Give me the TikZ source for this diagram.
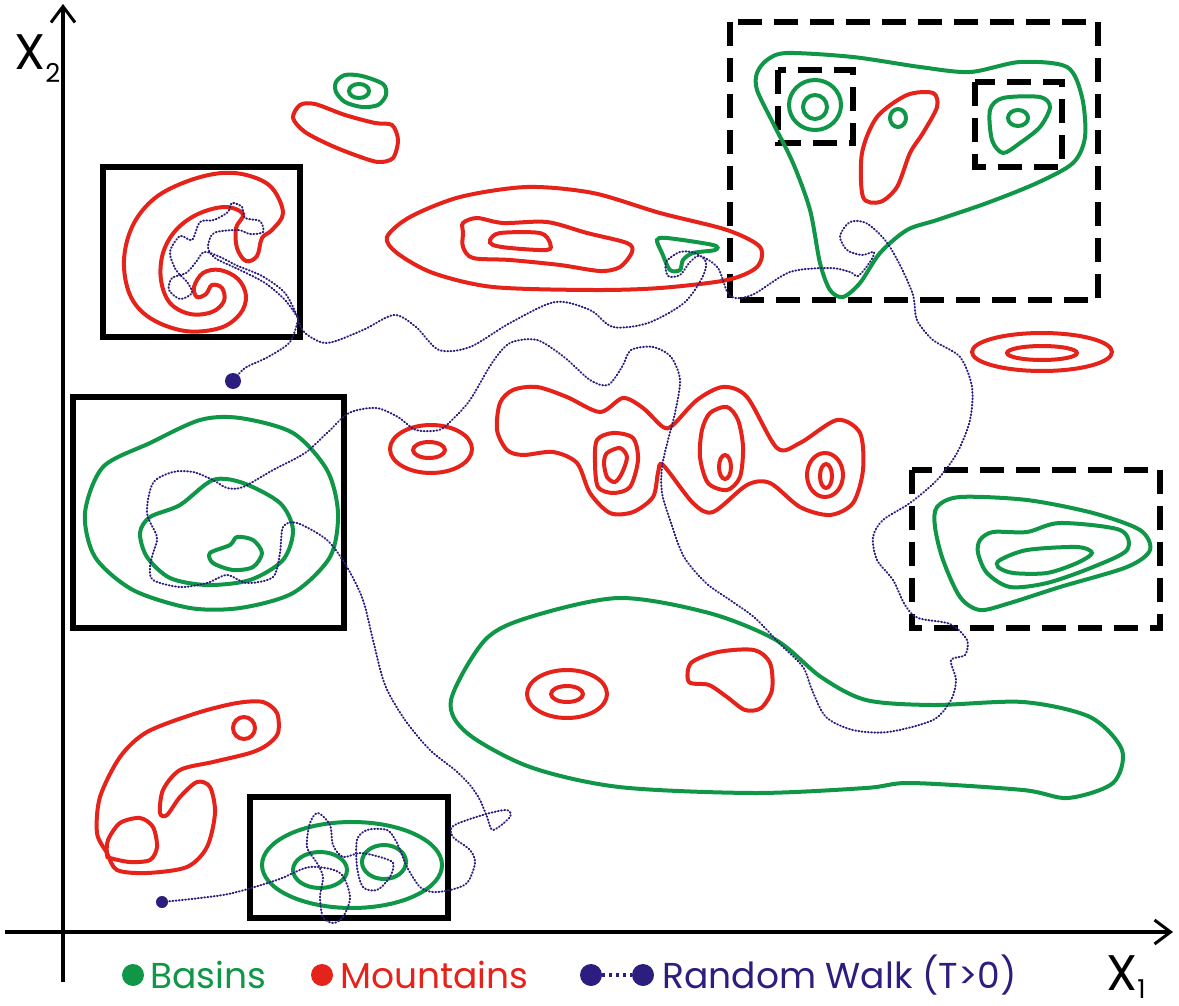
\documentclass[tikz,border=0pt]{standalone}
\usepackage{fontspec}
\setmainfont{Poppins}
\usetikzlibrary{arrows.meta,positioning}
\definecolor{basin}{HTML}{0F9647}
\definecolor{mountain}{HTML}{E5231B}
\definecolor{walker}{HTML}{2B1E7E}
\tikzset{
  mnt/.style={mountain, line width=2pt},
  bsn/.style={basin, line width=2pt},
  walk/.style={walker, line width=1pt, dash pattern=on 0.4pt off 1.2pt, line cap=round},
  frame/.style={black, line width=3pt},
  dframe/.style={black, line width=3pt, dash pattern=on 12pt off 6pt},
  axis/.style={black, line width=2pt, -{Straight Barb[length=8pt,width=12pt,line width=1.5pt]}},
  big/.style={inner sep=0pt, anchor=base west, font=\fontsize{25}{30}\selectfont},
  legtext/.style={inner sep=0pt, anchor=base west, font=\fontsize{18}{21}\selectfont},
  legdot/.style={circle, inner sep=0pt, minimum size=11pt},
}
\begin{document}
\begin{tikzpicture}[x=0.5pt,y=-0.5pt]
\useasboundingbox (0,0) rectangle (1179,1006);

% axes
\coordinate (o1) at (5,932);
\coordinate (e1) at (1173,932);
\coordinate (o2) at (63,982);
\coordinate (e2) at (63,4);
\draw[axis] (o1) -- (e1);
\draw[axis] (o2) -- (e2);
\node[big] (xtwo) at (14,70) {X\raisebox{-6pt}{\fontsize{13}{13}\selectfont 2}};
\node[big] (xone) at (1106,990) {X\raisebox{-4pt}{\fontsize{13}{13}\selectfont 1}};

% frames
\draw[frame] (103,167) rectangle (300,337);
\draw[frame] (73,397) rectangle (344,628);
\draw[frame] (250,797) rectangle (448,918);
\draw[dframe] (730,22) rectangle (1098,300);
\draw[dframe] (778,70) rectangle (853,143);
\draw[dframe] (975,82) rectangle (1062,167);
\draw[dframe] (912,470) rectangle (1160,628);

% spiral mountain
\draw[mnt] plot[smooth cycle, tension=0.6] coordinates {(283,213) (272,188) (250,176) (222,173) (188,181) (155,198) (133,225) (124,260) (130,295) (150,318) (185,331) (220,328) (240,314) (246,296) (238,279) (220,270) (203,273) (194,287) (197,297) (206,294) (212,285) (222,288) (224,301) (212,312) (190,314) (170,303) (161,280) (163,253) (176,230) (198,214) (225,207) (243,214) (236,228) (237,248) (246,261) (257,256) (262,238) (272,230)};

% small pair at the top
\draw[bsn] plot[smooth cycle] coordinates {(336,82) (345,75) (362,76) (383,84) (386,95) (378,105) (362,107) (345,102) (336,92)};
\draw[bsn] (359,91) ellipse [x radius=10, y radius=7];
\draw[mnt] plot[smooth cycle] coordinates {(300,105) (315,104) (345,115) (375,123) (392,125) (398,140) (393,158) (378,162) (355,155) (330,145) (305,132) (293,118)};

% long ridge
\draw[mnt] plot[smooth cycle] coordinates {(387,237) (410,217) (460,197) (527,187) (593,193) (660,213) (727,230) (760,247) (757,267) (727,280) (660,288) (593,290) (493,287) (433,273) (397,253)};
\draw[mnt] plot[smooth cycle] coordinates {(463,223) (477,218) (503,223) (547,222) (587,233) (627,243) (632,252) (620,267) (600,271) (560,265) (510,260) (473,258) (463,247) (463,233)};
\draw[mnt] plot[smooth cycle] coordinates {(490,240) (500,233) (540,233) (550,243) (547,250) (510,248) (493,245)};
\draw[bsn] plot[smooth cycle] coordinates {(657,240) (667,238) (713,245) (715,250) (693,253) (683,260) (680,270) (670,270) (662,253)};

% upper right basin
\draw[bsn] plot[smooth cycle] coordinates {(757,73) (767,60) (787,53) (853,57) (920,67) (970,72) (1020,62) (1067,67) (1082,97) (1085,137) (1073,163) (1037,183) (987,203) (937,220) (907,230) (880,253) (860,283) (843,297) (830,290) (820,263) (810,210) (793,163) (773,123) (757,90)};
\draw[bsn] (815,105) ellipse [x radius=26, y radius=25];
\draw[bsn] (815,107) circle [radius=12];
\draw[mnt] plot[smooth cycle] coordinates {(863,197) (862,153) (877,117) (907,95) (933,93) (937,107) (923,133) (910,153) (897,187) (880,202)};
\draw[bsn] (898,118) ellipse [x radius=8, y radius=9];
\draw[bsn] plot[smooth cycle] coordinates {(990,110) (1003,98) (1040,97) (1050,107) (1040,127) (1020,143) (1003,153) (992,140)};
\draw[bsn] (1018,118) ellipse [x radius=10, y radius=8];

% flat mountain on the right
\draw[mnt] (1042,352) ellipse [x radius=70, y radius=19];
\draw[mnt] (1042,353) ellipse [x radius=35, y radius=7];

% right basin
\draw[bsn] plot[smooth cycle] coordinates {(937,507) (960,497) (1027,500) (1093,513) (1140,530) (1150,550) (1127,567) (1060,587) (1010,603) (980,610) (960,597) (943,560) (935,527)};
\draw[bsn] plot[smooth cycle] coordinates {(980,540) (993,532) (1027,532) (1060,523) (1120,530) (1127,550) (1093,567) (1047,583) (1010,587) (987,573) (978,553)};
\draw[bsn] plot[smooth cycle] coordinates {(1000,560) (1027,550) (1077,547) (1092,553) (1077,563) (1047,573) (1013,573) (998,567)};

% mountain chain
\draw[mnt] (431,449) ellipse [x radius=41, y radius=24];
\draw[mnt] (429,450) ellipse [x radius=16, y radius=8];
\draw[mnt] plot[smooth cycle] coordinates {(500,403) (513,390) (537,387) (567,397) (600,412) (623,398) (643,408) (663,427) (673,425) (697,400) (723,387) (747,397) (777,448) (800,443) (837,420) (860,433) (863,470) (853,503) (830,515) (800,507) (770,483) (747,485) (713,512) (693,503) (663,465) (658,473) (653,497) (633,512) (610,513) (590,493) (577,463) (553,452) (523,455) (507,450) (497,430)};
\draw[mnt] plot[smooth cycle] coordinates {(597,440) (613,433) (633,438) (638,460) (630,487) (613,493) (598,487) (595,463)};
\draw[mnt] plot[smooth cycle] coordinates {(607,453) (620,448) (627,457) (622,473) (615,482) (607,477) (604,463)};
\draw[mnt] plot[smooth cycle] coordinates {(710,413) (727,407) (738,420) (743,447) (740,477) (727,490) (708,483) (700,457) (702,430)};
\draw[mnt] (725,467) ellipse [x radius=6, y radius=12];
\draw[mnt] (825,475) ellipse [x radius=18, y radius=22];
\draw[mnt] (826,476) ellipse [x radius=6, y radius=12];

% left basin
\draw[bsn] plot[smooth cycle] coordinates {(85,513) (103,467) (150,443) (200,420) (240,418) (293,433) (327,470) (338,513) (330,557) (293,593) (240,608) (190,608) (133,590) (95,557)};
\draw[bsn] plot[smooth cycle] coordinates {(140,533) (150,517) (180,505) (213,480) (243,483) (280,503) (293,530) (283,560) (250,580) (207,585) (170,578) (147,557)};
\draw[bsn] plot[smooth cycle] coordinates {(210,553) (230,545) (237,537) (253,540) (262,553) (253,567) (233,570) (213,563)};

% long basin at the bottom
\draw[bsn] plot[smooth cycle] coordinates {(451,700) (485,640) (530,617) (619,598) (709,613) (776,640) (821,677) (866,700) (933,705) (1023,702) (1090,717) (1122,750) (1113,783) (1068,798) (1023,790) (911,783) (866,788) (754,793) (619,787) (530,767) (467,733)};
\draw[mnt] (567,694) ellipse [x radius=40, y radius=24];
\draw[mnt] (567,694) ellipse [x radius=16, y radius=8];
\draw[mnt] plot[smooth cycle] coordinates {(689,682) (691,663) (718,652) (754,650) (770,663) (772,690) (761,708) (745,710) (727,697) (709,685)};

% bottom left mountain
\draw[mnt] plot[smooth cycle] coordinates {(107,853) (97,833) (100,797) (120,757) (147,732) (197,713) (237,703) (263,702) (277,713) (278,733) (267,745) (250,753) (213,762) (180,770) (163,790) (160,813) (167,815) (180,797) (197,782) (210,787) (215,813) (207,847) (187,867) (147,873) (117,870)};
\draw[mnt] (244,728) circle [radius=11];
\draw[mnt] plot[smooth cycle] coordinates {(107,855) (108,840) (120,823) (140,818) (153,827) (157,847) (150,860) (130,862) (110,858)};

% bottom basin
\draw[bsn] (352,865) ellipse [x radius=90, y radius=43];
\draw[bsn] (320,870) ellipse [x radius=27, y radius=18];
\draw[bsn] (384,862) ellipse [x radius=22, y radius=17];

% random walk
\fill[walker] (233,381) circle [radius=8];
\fill[walker] (162,902) circle [radius=6];
\draw[walk] plot[smooth] coordinates {(233,381) (245,368) (268,357) (290,342) (298,320)};
\draw[walk] plot[smooth] coordinates {(298,318) (285,293) (262,276) (238,266) (218,256) (204,252) (196,262) (186,273) (172,278) (169,290) (180,299) (192,293) (187,282) (176,270) (170,252) (180,236) (192,240) (200,222) (214,220) (228,212) (232,203) (242,207) (245,218) (260,221) (263,232) (250,234) (238,230) (214,233) (208,247) (215,258) (240,270) (265,283) (285,300) (298,318)};
\draw[walk] plot[smooth] coordinates {(298,320) (305,333) (327,343) (363,330) (394,315) (416,327) (439,350) (470,347) (510,323) (555,302) (590,310) (613,327) (648,323) (684,303) (702,278) (706,262) (695,253) (680,252) (666,262) (668,276) (680,275) (690,262) (700,256) (718,268) (730,296) (752,295) (790,272) (830,268) (850,272) (858,276) (870,262) (874,252) (862,255) (847,250) (840,236) (850,222) (866,223) (885,240) (900,265) (913,295) (917,320) (933,340) (960,357) (972,387) (970,420) (957,453) (937,480) (910,503) (883,520) (873,537) (877,560) (893,580) (905,605) (918,618) (950,624) (967,640) (965,655) (951,660) (956,680) (951,700) (933,720) (888,732) (853,730) (826,717) (812,690) (803,667) (781,645) (755,618) (730,600) (706,583) (684,557) (671,523) (662,493) (662,467) (668,440) (675,413) (680,380) (671,357) (653,347) (631,350) (622,367) (608,385) (590,380) (564,357) (537,340) (510,343) (492,363) (470,400) (452,420) (439,430) (416,430) (398,417) (376,408) (349,413) (327,433) (305,453) (273,470) (243,487) (227,488) (213,480) (193,472) (173,472) (153,483) (147,513) (157,537) (153,553) (150,567) (153,580) (180,587) (207,583) (227,575) (247,583) (273,577) (280,553) (283,527) (297,523) (327,540) (347,567) (363,600) (373,640) (385,685) (405,720) (430,750) (455,770) (470,785) (480,800) (487,817) (493,830) (510,817) (507,810) (490,813) (467,820) (452,827) (453,837) (470,850) (475,863) (467,883) (450,890) (433,892) (420,887) (407,867) (397,843) (387,830) (367,830) (357,840) (357,867) (363,887) (377,890) (390,877) (393,863) (380,857) (360,853) (343,857) (333,845) (330,825) (318,813) (310,823) (307,847) (317,863) (323,877) (320,897) (323,917) (333,923) (343,917) (350,897) (340,873) (310,867) (277,880) (233,893) (200,898) (162,902)};

% legend
\node[legdot, fill=basin] (lb) at (133,975) {};
\node[legtext, text=basin] (lbt) at (150,988) {Basins};
\node[legdot, fill=mountain] (lm) at (322,975) {};
\node[legtext, text=mountain] (lmt) at (340,988) {Mountains};
\node[legdot, fill=walker] (lw1) at (591,975) {};
\node[legdot, fill=walker] (lw2) at (643,975) {};
\draw[walker, line width=2pt, dash pattern=on 1.5pt off 2pt] (lw1) -- (lw2);
\node[legtext, text=walker] (lwt) at (662,988) {Random Walk (T>0)};
\end{tikzpicture}
\end{document}
